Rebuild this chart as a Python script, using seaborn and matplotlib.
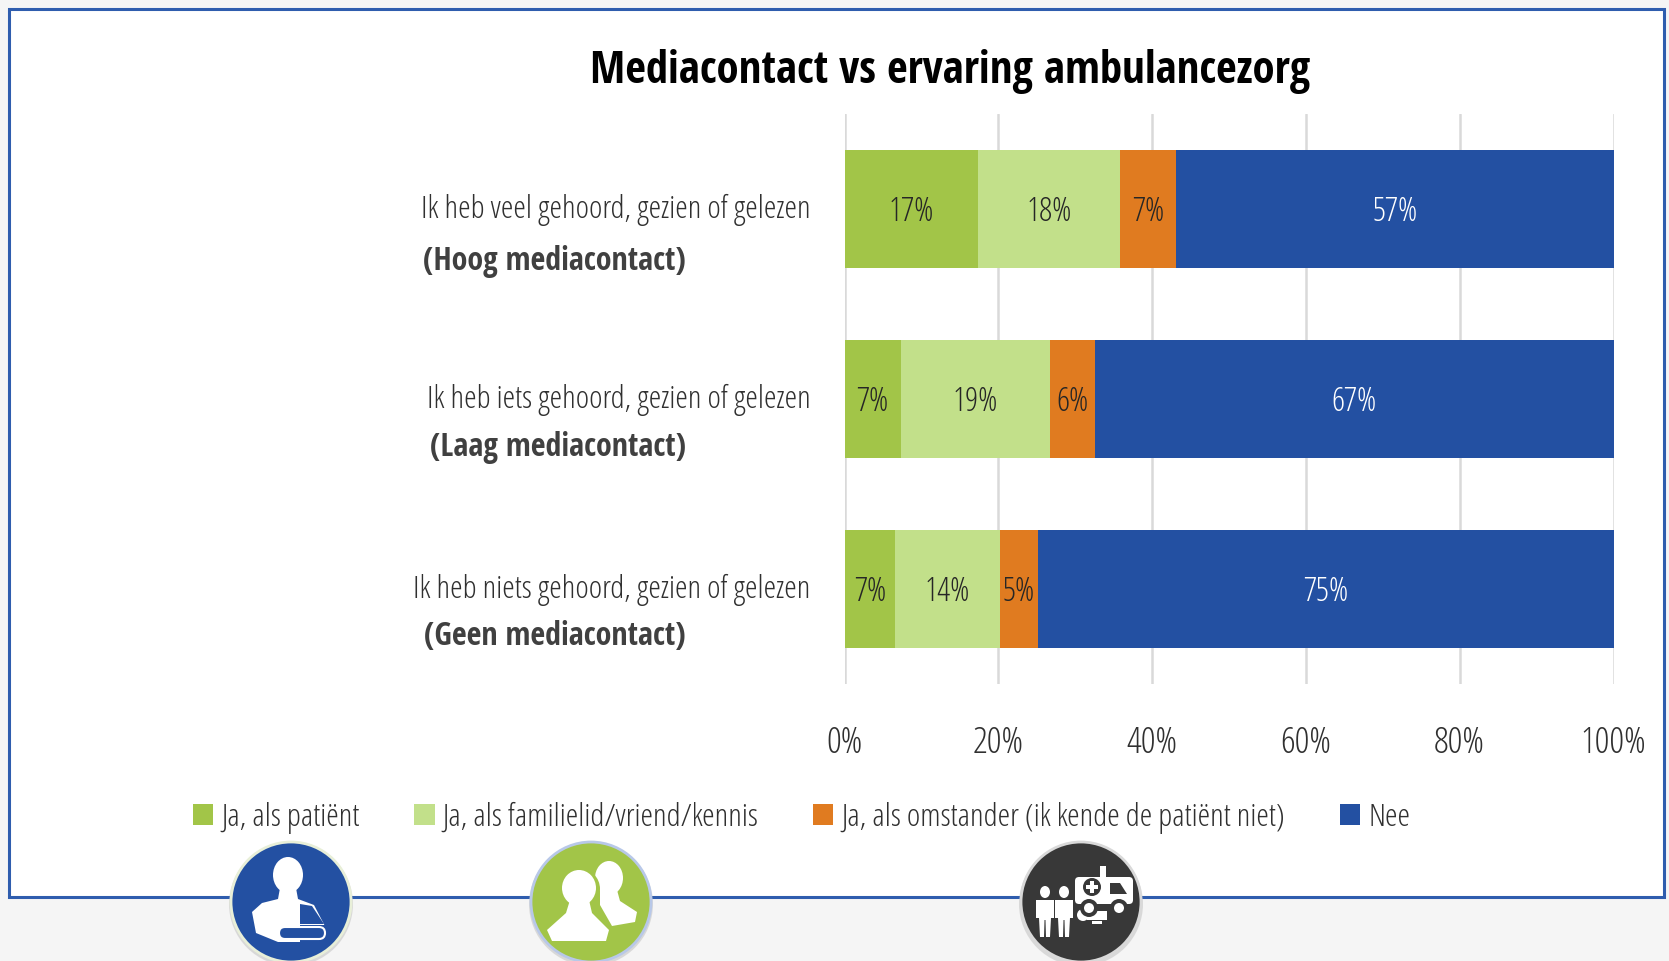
import matplotlib
matplotlib.use('Agg')
import matplotlib.pyplot as plt
from matplotlib import font_manager as fm
from matplotlib.patches import Circle, Ellipse, Polygon, Rectangle, FancyBboxPatch
from matplotlib.transforms import ScaledTranslation
import pandas as pd
import seaborn as sns

# data
categories = ['Ik heb veel gehoord, gezien of gelezen',
              'Ik heb iets gehoord, gezien of gelezen',
              'Ik heb niets gehoord, gezien of gelezen']
bold_labels = ['(Hoog mediacontact)', '(Laag mediacontact)', '(Geen mediacontact)']
series_names = ['Ja, als patiënt', 'Ja, als familielid/vriend/kennis',
                'Ja, als omstander (ik kende de patiënt niet)', 'Nee']
patient = [17.4, 7.3, 6.6]
familie = [18.4, 19.4, 13.6]
omstander = [7.3, 5.9, 5.0]
nee = [56.9, 67.4, 74.8]
patient_labels = ['17%', '7%', '7%']
familie_labels = ['18%', '19%', '14%']
omstander_labels = ['7%', '6%', '5%']
nee_labels = ['57%', '67%', '75%']
x_ticks = [0, 20, 40, 60, 80, 100]

colors = ['#A2C548', '#C2E08A', '#E07B20', '#2350A2']

sns.set_theme(style='white')


def font(fname, fallback_weight, size):
    # the condensed cuts are filed under 'Open Sans', so pick them by file name
    for f in fm.fontManager.ttflist:
        if f.fname.endswith(fname):
            return fm.FontProperties(fname=f.fname, size=size)
    return fm.FontProperties(family='Open Sans', weight=fallback_weight, size=size)


def light(size):
    return font('OpenSans-CondLight.ttf', 300, size)


def bold(size):
    return font('OpenSans-CondBold.ttf', 700, size)


W, H = 1669, 961
fig = plt.figure(figsize=(W / 100, H / 100), dpi=100, facecolor='#F5F5F5')

# overlay in pixel coordinates for the frame and the icons
bg = fig.add_axes([0, 0, 1, 1], zorder=0)
bg.set_xlim(0, W)
bg.set_ylim(H, 0)
bg.axis('off')
bg.add_patch(Rectangle((8.5, 8.5), 1655, 888.5, fc='white', ec='#2F5DAE', lw=2.2))

# main chart
ax = fig.add_axes([844.5 / W, 1 - 684 / H, (1613.5 - 844.5) / W, 570 / H], zorder=2)
ax.patch.set_alpha(0)

df = pd.DataFrame({'categorie': categories, series_names[0]: patient, series_names[1]: familie,
                   series_names[2]: omstander, series_names[3]: nee})
all_labels = [patient_labels, familie_labels, omstander_labels, nee_labels]
left = [0.0, 0.0, 0.0]
for i, name in enumerate(series_names):
    sns.barplot(data=df, x=name, y='categorie', color=colors[i], width=0.62, left=left,
                saturation=1, ax=ax, zorder=3, linewidth=0)
    cont = ax.containers[-1]
    for t in ax.bar_label(cont, labels=all_labels[i], label_type='center',
                          color='white' if i == 3 else '#262626'):
        t.set_fontproperties(light(23.5))
        t.xyann = (0, -2.5)
    left = [a + b for a, b in zip(left, df[name])]

ax.set_xlim(0, 100)
ax.set_ylim(2.5, -0.5)
ax.set_xticks(x_ticks)
ax.set_xticklabels([f'{t}%' for t in x_ticks], color='#303030', fontproperties=light(26.5))
ax.set_xlabel('')
ax.set_ylabel('')
ax.set_yticks(range(3))
ax.set_yticklabels(categories, color='#303030', fontproperties=light(23))
ax.tick_params(axis='x', length=0, pad=29.5)
ax.tick_params(axis='y', length=0, pad=24.5)
ax.grid(axis='x', color='#D9D9D9', lw=1.8, zorder=0)
ax.set_axisbelow(True)
sns.despine(ax=ax, left=True, bottom=True)

# the plain lines sit a little above the bar centres
for lbl in ax.get_yticklabels():
    lbl.set_transform(lbl.get_transform() + ScaledTranslation(0, 2 / 72, fig.dpi_scale_trans))

for lbl, py in zip(bold_labels, [261, 447, 637]):
    bg.text(686, py, lbl, ha='right', va='center', color='#404040', fontproperties=bold(23))

bg.text(950, 72, 'Mediacontact vs ervaring ambulancezorg', ha='center', va='center',
        color='black', fontproperties=bold(32.2))

handles = ax.containers[:4]
leg = fig.legend(handles=[c[0] for c in handles], labels=series_names, ncol=4, frameon=False,
                 loc='center left', bbox_to_anchor=(193 / W, 1 - 818 / H), prop=light(23),
                 handlelength=0.63, handleheight=0.63, handletextpad=0.25, columnspacing=1.72,
                 labelcolor='#303030', borderpad=0, borderaxespad=0)


# icons, one disc each with white shapes on top
def disc(cx, color, edge):
    bg.add_patch(Circle((cx, 904), 62, fc='#BDBDBD', ec='none', alpha=0.5, zorder=2))
    bg.add_patch(Circle((cx, 902), 60, fc=color, ec=edge, lw=2, zorder=3))


def white(patch):
    patch.set(fc='white', ec='none', zorder=4)
    bg.add_patch(patch)


disc(291, '#2350A2', '#E8EFD8')
white(Ellipse((288, 875), 30, 36))
white(Polygon([(280, 888), (296, 888), (298, 899), (314, 905), (328, 932), (322, 942), (278, 942),
               (256, 933), (252, 912), (262, 903), (278, 899)]))
bg.add_patch(Polygon([(300, 904), (300, 924), (324, 924), (312, 906)], fc='#2350A2', ec='none', zorder=5))
bg.add_patch(FancyBboxPatch((279, 927), 46, 12, boxstyle='round,pad=0,rounding_size=6', fc='#2350A2',
                            ec='white', lw=1.5, zorder=5))
bg.add_patch(Rectangle((300, 925), 28, 18, fc='#2350A2', ec='none', zorder=4.5))

disc(591, '#A2C548', '#B8C8E8')
white(Ellipse((609, 878), 28, 34))
white(Polygon([(600, 890), (617, 890), (620, 901), (637, 912), (635, 922), (612, 926), (600, 905)]))
bg.add_patch(Ellipse((579, 889), 42, 42, fc='#A2C548', ec='none', zorder=4))
white(Ellipse((579, 888), 34, 36))
white(Polygon([(570, 900), (589, 900), (592, 913), (609, 930), (606, 941), (552, 941), (547, 930),
               (566, 913)]))

disc(1081, '#383838', '#D9D9D9')
white(Ellipse((1045, 892), 10, 12))
white(Ellipse((1064, 892), 10, 12))
for bx in (1036, 1055):
    white(Polygon([(bx, 900), (bx + 18, 900), (bx + 18, 918), (bx + 15, 918), (bx + 14, 937), (bx + 10, 937),
                   (bx + 9.5, 920), (bx + 8.5, 920), (bx + 8, 937), (bx + 4, 937), (bx + 3, 918), (bx, 918)]))
white(FancyBboxPatch((1075, 877), 58, 27, boxstyle='round,pad=0,rounding_size=4'))
white(Rectangle((1100, 866), 6, 11))
bg.add_patch(Polygon([(1110, 883), (1120, 883), (1127, 894), (1110, 894)], fc='#383838', ec='none', zorder=5))
bg.add_patch(Circle((1092, 887), 9, fc='#383838', ec='none', zorder=5))
white(Rectangle((1090, 881), 4, 12))
bg.patches[-1].set_zorder(6)
white(Rectangle((1086, 885), 12, 4))
bg.patches[-1].set_zorder(6)
for wx in (1089, 1119):
    bg.add_patch(Circle((wx, 908), 9, fc='#383838', ec='none', zorder=5))
    bg.add_patch(Circle((wx, 908), 5, fc='white', ec='none', zorder=6))
white(Circle((1083, 915), 6))
white(Rectangle((1087, 911), 20, 9))
white(Rectangle((1092, 921), 10, 3))

fig.savefig('out.png', dpi=100, facecolor=fig.get_facecolor())
